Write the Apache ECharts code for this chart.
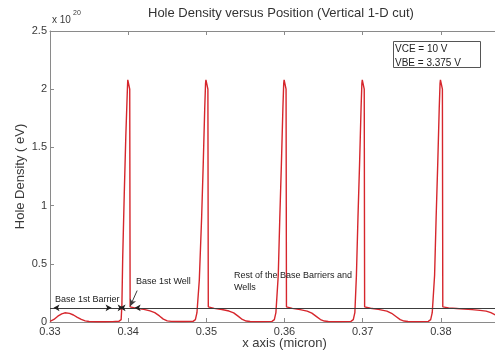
<!DOCTYPE html>
<html>
<head>
<meta charset="utf-8">
<script src="https://cdn.jsdelivr.net/npm/echarts@6/dist/echarts.min.js"></script>
<style>
  html, body { margin: 0; padding: 0; background: #fff; }
  #chart { width: 495px; height: 356px; }
</style>
</head>
<body>
<div id="chart"></div>
<script>
// Position along the vertical 1-D cut (micron)
const xPos = [
  0.3300, 0.3305, 0.3310, 0.3315, 0.3319, 0.3325, 0.3330, 0.3335, 0.3340, 0.3345,
  0.3350, 0.3360, 0.3370, 0.3380, 0.3388, 0.3391, 0.3392, 0.3393, 0.3395, 0.3397,
  0.3399, 0.33995, 0.3401, 0.3402, 0.34025,
  0.3403, 0.3410, 0.3420, 0.3428, 0.3434, 0.3440, 0.3445, 0.3450, 0.3455, 0.3470,
  0.3483, 0.3486, 0.3488, 0.3491, 0.3494, 0.3496, 0.3498, 0.3499, 0.34995, 0.3501,
  0.3502, 0.35025,
  0.3503, 0.3510, 0.3520, 0.3529, 0.3535, 0.3541, 0.3546, 0.3551, 0.3556, 0.3570,
  0.3584, 0.3587, 0.3589, 0.3592, 0.3594, 0.3596, 0.3598, 0.3599, 0.35995, 0.3601,
  0.3602, 0.36025,
  0.3603, 0.3610, 0.3620, 0.3629, 0.3635, 0.3641, 0.3646, 0.3651, 0.3656, 0.3670,
  0.3685, 0.3688, 0.3690, 0.3692, 0.3694, 0.3696, 0.3698, 0.3699, 0.36995, 0.3701,
  0.3702, 0.37025,
  0.3703, 0.3710, 0.3720, 0.3731, 0.3737, 0.3743, 0.3748, 0.3753, 0.3758, 0.3770,
  0.3784, 0.3787, 0.3789, 0.3792, 0.3794, 0.3796, 0.3798, 0.3799, 0.37995, 0.3801,
  0.3802, 0.38025,
  0.3803, 0.3810, 0.3820, 0.3830, 0.3840, 0.3850, 0.3858, 0.3864, 0.3869, 0.3873
];

// Hole density in units of 1e20
const holeDensity = [
  0.006, 0.022, 0.050, 0.070, 0.079, 0.074, 0.060, 0.040, 0.022, 0.010,
  0.004, 0.002, 0.002, 0.003, 0.006, 0.020, 0.150, 0.550, 1.100, 1.600,
  2.000, 2.080, 2.070, 2.000, 0.130,
  0.125, 0.118, 0.108, 0.096, 0.080, 0.052, 0.025, 0.010, 0.005, 0.004,
  0.005, 0.020, 0.080, 0.360, 0.900, 1.350, 1.850, 2.050, 2.080, 2.070,
  2.000, 0.130,
  0.125, 0.117, 0.107, 0.094, 0.078, 0.048, 0.022, 0.008, 0.004, 0.003,
  0.005, 0.020, 0.080, 0.400, 0.900, 1.350, 1.850, 2.050, 2.080, 2.070,
  2.000, 0.130,
  0.125, 0.117, 0.106, 0.093, 0.076, 0.046, 0.021, 0.008, 0.004, 0.003,
  0.005, 0.020, 0.080, 0.400, 0.900, 1.350, 1.850, 2.050, 2.080, 2.070,
  2.000, 0.130,
  0.125, 0.118, 0.108, 0.093, 0.075, 0.045, 0.020, 0.008, 0.004, 0.003,
  0.005, 0.020, 0.080, 0.400, 0.900, 1.350, 1.850, 2.050, 2.080, 2.070,
  2.000, 0.130,
  0.125, 0.121, 0.116, 0.111, 0.106, 0.100, 0.093, 0.080, 0.064, 0.050
];

const yTicks = [0, 0.5, 1, 1.5, 2, 2.5];
const xTicks = [0.33, 0.34, 0.35, 0.36, 0.37, 0.38, 0.39];

// Reference level of the dimension arrows (units of 1e20)
const guideLevel = 0.122;
// Arrowheads along the guide line: [x, direction]
const arrowHeads = [
  [0.33045, 'left'], [0.33788, 'right'], [0.3389, 'left'],
  [0.33942, 'right'], [0.34083, 'left']
];
// Pointer from the "Base 1st Well" note down to the well edge
const wellPointer = [[0.34115, 0.27], [0.34025, 0.135]];

const FONT = 'Liberation Sans, Arial, sans-serif';
const AXIS_GREY = '#8a8a8a';
const TEXT_GREY = '#3a3a3a';

const seriesData = xPos.map((x, i) => [x, holeDensity[i]]);

const chart = echarts.init(document.getElementById('chart'), null, { renderer: 'canvas' });

const axisCommon = {
  type: 'value',
  min: xTicks[0],
  max: xTicks[xTicks.length - 1],
  interval: 0.01,
  splitLine: { show: false },
  axisLine: { show: true, onZero: false, lineStyle: { color: AXIS_GREY, width: 1 } },
  axisTick: { show: true, inside: true, length: 4, lineStyle: { color: AXIS_GREY } }
};

chart.setOption({
  animation: false,
  backgroundColor: '#ffffff',
  grid: {
    left: 50, right: -24, top: 31, bottom: 34,
    containLabel: false, outerBoundsMode: 'none'
  },
  xAxis: [
    Object.assign({}, axisCommon, {
      position: 'bottom',
      name: 'x axis (micron)',
      nameLocation: 'middle',
      nameGap: 15,
      nameMoveOverlap: false,
      nameTextStyle: { fontFamily: FONT, fontSize: 13, color: TEXT_GREY },
      axisLabel: {
        fontFamily: FONT, fontSize: 11, color: TEXT_GREY, margin: 4,
        formatter: v => v.toFixed(2)
      }
    }),
    Object.assign({}, axisCommon, {
      position: 'top',
      axisLabel: { show: false }
    })
  ],
  yAxis: {
    type: 'value',
    min: yTicks[0],
    max: yTicks[yTicks.length - 1],
    interval: 0.5,
    name: 'Hole Density ( eV)',
    nameLocation: 'middle',
    nameGap: 23,
    nameMoveOverlap: false,
    nameRotate: 90,
    nameTextStyle: { fontFamily: FONT, fontSize: 13, color: TEXT_GREY },
    splitLine: { show: false },
    axisLine: { show: true, lineStyle: { color: AXIS_GREY, width: 1 } },
    axisTick: { show: true, inside: true, length: 4, lineStyle: { color: AXIS_GREY } },
    axisLabel: { fontFamily: FONT, fontSize: 11, color: TEXT_GREY, margin: 3 }
  },
  series: [
    {
      type: 'line',
      data: seriesData,
      showSymbol: false,
      symbol: 'none',
      clip: true,
      lineStyle: { color: '#d6262c', width: 1.4 },
      z: 3
    },
    {
      // guide line with dimension arrows and pointer
      type: 'line',
      data: [],
      silent: true,
      z: 4,
      markLine: {
        silent: true,
        animation: false,
        symbol: ['none', 'none'],
        label: { show: false },
        lineStyle: { color: '#3c3c3c', width: 1, type: 'solid' },
        data: [
          [{ coord: [xTicks[0], guideLevel] }, { coord: [xTicks[xTicks.length - 1], guideLevel] }],
          [
            { coord: wellPointer[0], symbol: 'none' },
            { coord: wellPointer[1], symbol: 'arrow', symbolSize: [5, 7] }
          ]
        ]
      },
      markPoint: {
        silent: true,
        animation: false,
        label: { show: false },
        itemStyle: { color: '#1e1e1e' },
        data: arrowHeads.map(([x, dir]) => ({
          coord: [x, guideLevel],
          symbol: 'arrow',
          symbolSize: [5, 6],
          symbolRotate: dir === 'left' ? 90 : -90
        }))
      }
    }
  ],
  graphic: [
    {
      type: 'text', left: 148, top: 7,
      style: { text: 'Hole Density versus Position (Vertical 1-D cut)', font: '13px ' + FONT, fill: '#333' }
    },
    {
      type: 'text', left: 52, top: 15,
      style: { text: 'x 10', font: '10px ' + FONT, fill: TEXT_GREY }
    },
    {
      type: 'text', left: 73, top: 10,
      style: { text: '20', font: '7px ' + FONT, fill: TEXT_GREY }
    },
    {
      type: 'rect', shape: { x: 393.5, y: 41.5, width: 87, height: 26 },
      style: { fill: '#fff', stroke: '#555', lineWidth: 1 }, z: 10
    },
    {
      type: 'text', left: 395, top: 44, z: 11,
      style: { text: 'VCE = 10 V', font: '10px ' + FONT, fill: '#222' }
    },
    {
      type: 'text', left: 395, top: 58, z: 11,
      style: { text: 'VBE = 3.375 V', font: '10px ' + FONT, fill: '#222' }
    },
    {
      type: 'text', left: 55, top: 295, z: 11,
      style: { text: 'Base 1st Barrier', font: '9px ' + FONT, fill: '#222' }
    },
    {
      type: 'text', left: 136, top: 277, z: 11,
      style: { text: 'Base 1st Well', font: '9px ' + FONT, fill: '#222' }
    },
    {
      type: 'text', left: 234, top: 270, z: 11,
      style: { text: 'Rest of the Base Barriers and\nWells', font: '9px ' + FONT, fill: '#222', lineHeight: 12 }
    }
  ]
});
</script>
</body>
</html>
